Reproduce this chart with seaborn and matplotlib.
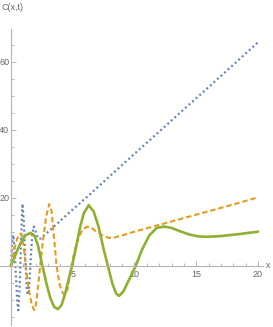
import matplotlib
matplotlib.use("Agg")
import matplotlib.pyplot as plt
import seaborn as sns
from matplotlib.ticker import MultipleLocator, FixedLocator

sns.set_style("white")
plt.rcParams['font.family'] = ['Liberation Sans Narrow', 'Liberation Sans', 'DejaVu Sans']

# ---- data ----
blue_x = [0, 0.1, 0.19, 0.3, 0.42, 0.52, 0.6, 0.7, 0.82, 0.94, 1.05, 1.17, 1.3, 1.4,
          1.5, 1.62, 1.74, 1.85, 1.98, 2.1, 2.25, 2.42, 3, 4, 5, 6, 8, 10, 12, 14, 16, 18, 20]
blue_y = [0, 6.5, 9.1, 5, -4, -10.5, -13, -7, 7, 18.3, 13, 2, -7.5, -8.5,
          -5, 3, 9.5, 11.6, 10.5, 9, 8, 8.1, 10.0, 13.3, 16.6, 19.8, 26.4, 33.0, 39.5, 46.1, 52.6, 59.2, 65.8]

orange_x = [0, 0.25, 0.5, 0.8, 1.0, 1.21, 1.45, 1.7, 1.88, 2.05, 2.2, 2.37, 2.6, 2.85, 3.1, 3.3,
            3.5, 3.7, 3.95, 4.2, 4.4, 4.6, 4.9, 5.2, 5.5, 5.8, 6.2, 6.6, 7.0, 7.5, 7.9, 8.4, 9,
            10, 12, 14, 16, 18, 20]
orange_y = [0, 4.5, 8, 9.6, 7, 0, -7, -11.5, -13, -11, -6, 0, 7.5, 14.5, 18.2, 16,
            8, 0, -5.5, -8, -8.5, -6.5, 0, 5, 8.5, 10.7, 11.6, 11, 9.9, 8.8, 8.3, 8.4, 9,
            10.1, 12.1, 14.1, 16.1, 18.1, 20.2]

green_x = [0, 0.3, 0.6, 0.9, 1.2, 1.6, 1.9, 2.2, 2.55, 2.9, 3.2, 3.5, 3.8, 4.1, 4.4, 4.7, 4.95,
           5.3, 5.6, 5.9, 6.3, 6.7, 7.1, 7.5, 7.85, 8.2, 8.5, 8.75, 9.1, 9.5, 10.1, 10.6, 11.2,
           11.8, 12.4, 13, 13.7, 14.5, 15.2, 15.9, 17, 18.5, 20]
green_y = [0, 2.6, 5.3, 7.6, 9.1, 9.7, 9.0, 6.0, 0, -5.5, -9.5, -12, -12.7, -11.5, -8, -3.5, 0,
           6, 11.5, 15.5, 17.9, 16, 11.5, 5, 0, -5, -8, -8.8, -7.5, -4.5, 0, 4.7, 9,
           11.2, 11.6, 11.2, 10.2, 9.2, 8.7, 8.6, 8.8, 9.4, 10.1]

x_ticks = [5, 10, 15, 20]
y_ticks = [20, 40, 60]

W, H = 273, 327
fig = plt.figure(figsize=(W / 100, H / 100), dpi=100)
ax = fig.add_axes([0 / W, (H - 325) / H, 263 / W, (325 - 29) / H])
ax.set_xlim(-0.88, 20.4)
ax.set_ylim(-17.35, 69.7)

sns.lineplot(x=blue_x, y=blue_y, ax=ax, color="#5E81B5", lw=1.6, sort=False)
ax.lines[-1].set_linestyle((0, (0.85, 1.3)))
sns.lineplot(x=orange_x, y=orange_y, ax=ax, color="#E19C24", lw=1.5, sort=False)
ax.lines[-1].set_linestyle((0, (2.6, 1.4)))
sns.lineplot(x=green_x, y=green_y, ax=ax, color="#8FB032", lw=1.9, sort=False)

axis_col = "#b5b5b5"
label_col = "#666666"
for s in ["top", "right"]:
    ax.spines[s].set_visible(False)
ax.spines["left"].set_position(("data", 0))
ax.spines["bottom"].set_position(("data", 0))
for s in ["left", "bottom"]:
    ax.spines[s].set_color(axis_col)
    ax.spines[s].set_linewidth(0.8)

ax.xaxis.set_major_locator(FixedLocator(x_ticks))
ax.yaxis.set_major_locator(FixedLocator(y_ticks))
ax.xaxis.set_minor_locator(MultipleLocator(1))
ax.yaxis.set_minor_locator(MultipleLocator(5))
ax.tick_params(which="both", direction="in", color=axis_col, width=0.7,
               labelcolor=label_col, labelsize=6.5)
ax.tick_params(which="major", length=3.5)
ax.tick_params(which="minor", length=2.2)
ax.tick_params(axis="x", which="major", pad=3)
ax.tick_params(axis="y", which="major", pad=1.2)
ax.tick_params(axis="x", which="both", bottom=True, top=False)
ax.tick_params(axis="y", which="both", left=True, right=False)
ax.set_xticklabels([str(v) for v in x_ticks])
ax.set_yticklabels([str(v) for v in y_ticks])
ax.set_xlabel("")
ax.set_ylabel("")

fig.text(2 / W, 1 - 3 / H, "C(x,t)", ha="left", va="top", fontsize=6.5, color=label_col)
fig.text(266 / W, 1 - 265 / H, "x", ha="left", va="center", fontsize=6.5, color=label_col)

fig.savefig("out.png", dpi=100)
